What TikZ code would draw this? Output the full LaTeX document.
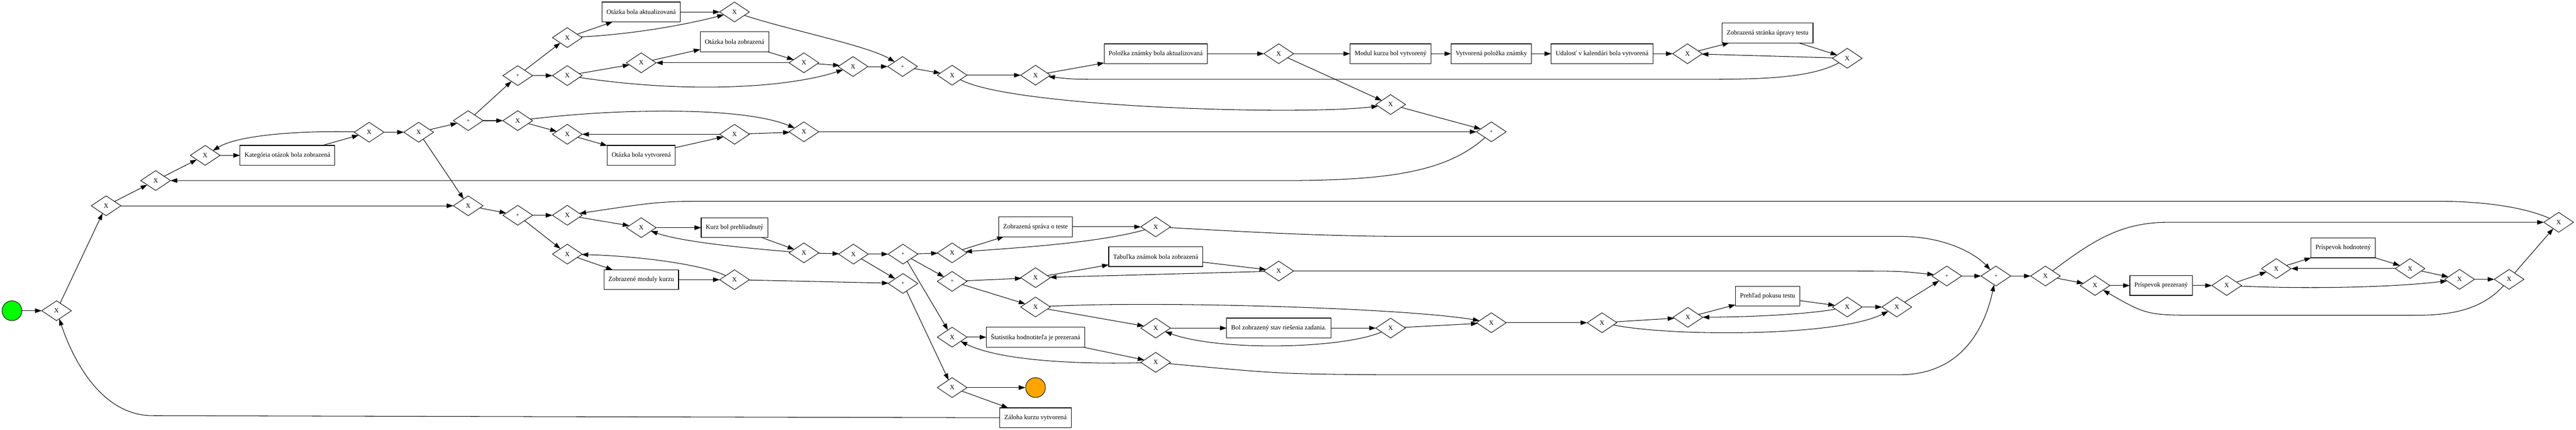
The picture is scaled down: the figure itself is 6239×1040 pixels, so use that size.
\documentclass[tikz,border=0pt]{standalone}
\usepackage{fontspec}
\setmainfont{Liberation Serif}
\usetikzlibrary{shapes.geometric,arrows.meta}
\definecolor{startgreen}{RGB}{0,255,0}
\definecolor{endorange}{RGB}{255,165,0}

\begin{document}
\begin{tikzpicture}[x=1pt, y=-1pt, font=\fontsize{15.8}{19}\selectfont,
	xgate/.style={draw, diamond, line width=1.2pt, minimum width=72pt, minimum height=48pt, inner sep=0pt, outer sep=0pt},
	pgate/.style={xgate, font=\fontsize{13.5}{15}\selectfont},
	eventbox/.style={draw, rectangle, line width=1.5pt, minimum height=48pt, inner xsep=11pt, outer sep=0pt},
	flow/.style={line width=1.3pt, arrows={-Triangle[length=16pt,width=11pt]}}]
	\useasboundingbox (0,0) rectangle (6239,1040);
	% events
	\node[circle, draw, fill=startgreen, minimum size=48pt, inner sep=0pt, line width=1.2pt] (startEv) at (29,752) {};
	\node[circle, draw, fill=endorange, minimum size=48pt, inner sep=0pt, line width=1.2pt] (endEv) at (2508,938) {};
	% gateways
	\node[xgate] (g1) at (137,752) {X};
	\node[xgate] (g2) at (257,498) {X};
	\node[xgate] (g3) at (377,437) {X};
	\node[xgate] (g4) at (497,376) {X};
	\node[xgate] (g5) at (894,320) {X};
	\node[xgate] (g6) at (1014,320) {X};
	\node[xgate] (g7) at (1134,498) {X};
	\node[xgate] (g8) at (1254,292) {X};
	\node[xgate] (g9) at (1374,91) {X};
	\node[xgate] (g10) at (1374,183) {X};
	\node[xgate] (g11) at (1779,29) {X};
	\node[xgate] (g12) at (1553,152) {X};
	\node[xgate] (g13) at (1947,152) {X};
	\node[xgate] (g14) at (1374,325) {X};
	\node[xgate] (g15) at (1779,325) {X};
	\node[xgate] (g16) at (1947,319) {X};
	\node[xgate] (g17) at (2066,161) {X};
	\node[xgate] (g18) at (2306,182) {X};
	\node[xgate] (g19) at (2508,182) {X};
	\node[xgate] (g20) at (3097,130) {X};
	\node[xgate] (g21) at (4087,130) {X};
	\node[xgate] (g22) at (4474,141) {X};
	\node[xgate] (g23) at (3368,253) {X};
	\node[xgate] (g24) at (1374,521) {X};
	\node[xgate] (g25) at (1553,551) {X};
	\node[xgate] (g26) at (1947,612) {X};
	\node[xgate] (g27) at (2067,615) {X};
	\node[xgate] (g28) at (1374,615) {X};
	\node[xgate] (g29) at (1779,677) {X};
	\node[xgate] (g30) at (2306,612) {X};
	\node[xgate] (g31) at (2306,816) {X};
	\node[xgate] (g32) at (2306,938) {X};
	\node[xgate] (g33) at (2799,877) {X};
	\node[xgate] (g34) at (2508,672) {X};
	\node[xgate] (g35) at (3097,656) {X};
	\node[xgate] (g36) at (2508,743) {X};
	\node[xgate] (g37) at (2799,794) {X};
	\node[xgate] (g38) at (2799,549) {X};
	\node[xgate] (g39) at (3368,794) {X};
	\node[xgate] (g40) at (4954,668) {X};
	\node[xgate] (g41) at (5074,691) {X};
	\node[xgate] (g42) at (4474,743) {X};
	\node[xgate] (g43) at (4594,743) {X};
	\node[xgate] (g44) at (3612,781) {X};
	\node[xgate] (g45) at (3880,781) {X};
	\node[xgate] (g46) at (4088,768) {X};
	\node[xgate] (g47) at (5393,691) {X};
	\node[xgate] (g48) at (5513,650) {X};
	\node[xgate] (g49) at (5837,650) {X};
	\node[xgate] (g50) at (5957,676) {X};
	\node[xgate] (g51) at (6077,676) {X};
	\node[xgate] (g52) at (6197,538) {X};
	\node[pgate] (p0) at (1254,521) {+};
	\node[pgate] (p1) at (1134,292) {+};
	\node[pgate] (p2) at (1254,183) {+};
	\node[pgate] (p3) at (2186,161) {+};
	\node[pgate] (p4) at (3612,319) {+};
	\node[pgate] (p5) at (2187,615) {+};
	\node[pgate] (p6) at (2187,686) {+};
	\node[pgate] (p7) at (2306,681) {+};
	\node[pgate] (p8) at (4715,668) {+};
	\node[pgate] (p9) at (4834,668) {+};
	% activities
	\node[eventbox] (kategoria) at (696,376) {Kategória otázok bola zobrazená};
	\node[eventbox] (otazkaAkt) at (1553,29) {Otázka bola aktualizovaná};
	\node[eventbox] (otazkaZob) at (1779,101) {Otázka bola zobrazená};
	\node[eventbox] (otazkaVyt) at (1553,376) {Otázka bola vytvorená};
	\node[eventbox] (polozkaAkt) at (2799,130) {Položka známky bola aktualizovaná};
	\node[eventbox] (modul) at (3368,130) {Modul kurzu bol vytvorený};
	\node[eventbox] (polozkaVyt) at (3612,130) {Vytvorená položka známky};
	\node[eventbox] (udalost) at (3880,130) {Udalosť v kalendári bola vytvorená};
	\node[eventbox] (stranka) at (4281,80) {Zobrazená stránka úpravy testu};
	\node[eventbox] (kurz) at (1779,551) {Kurz bol prehliadnutý};
	\node[eventbox] (moduly) at (1553,677) {Zobrazené moduly kurzu};
	\node[eventbox] (sprava) at (2508,549) {Zobrazená správa o teste};
	\node[eventbox] (tabulka) at (2799,621) {Tabuľka známok bola zobrazená};
	\node[eventbox] (stav) at (3097,794) {Bol zobrazený stav riešenia zadania.};
	\node[eventbox] (statistika) at (2508,816) {Štatistika hodnotiteľa je prezeraná};
	\node[eventbox] (zaloha) at (2508,1011) {Záloha kurzu vytvorená};
	\node[eventbox] (prehlad) at (4281,717) {Prehľad pokusu testu};
	\node[eventbox] (prispPrez) at (5234,691) {Príspevok prezeraný};
	\node[eventbox] (prispHod) at (5675,600) {Príspevok hodnotený};
	% straight flows
	\draw[flow] (startEv) -- (g1);
	\draw[flow] (g1) -- (g2);
	\draw[flow] (g2) -- (g3);
	\draw[flow] (g3) -- (g4);
	\draw[flow] (g4) -- (kategoria);
	\draw[flow] (kategoria) -- (g5);
	\draw[flow] (g5) -- (g6);
	\draw[flow] (g6) -- (p1);
	\draw[flow] (g6) -- (g7);
	\draw[flow] (g2) -- (g7);
	\draw[flow] (p1) -- (p2);
	\draw[flow] (p1) -- (g8);
	\draw[flow] (p2) -- (g9);
	\draw[flow] (p2) -- (g10);
	\draw[flow] (g9) -- (otazkaAkt);
	\draw[flow] (otazkaAkt) -- (g11);
	\draw[flow] (g10) -- (g12);
	\draw[flow] (g12) -- (otazkaZob);
	\draw[flow] (otazkaZob) -- (g13);
	\draw[flow] (g13) -- (g12);
	\draw[flow] (g13) -- (g17);
	\draw[flow] (g17) -- (p3);
	\draw[flow] (p3) -- (g18);
	\draw[flow] (g18) -- (g19);
	\draw[flow] (g19) -- (polozkaAkt);
	\draw[flow] (polozkaAkt) -- (g20);
	\draw[flow] (g20) -- (modul);
	\draw[flow] (modul) -- (polozkaVyt);
	\draw[flow] (polozkaVyt) -- (udalost);
	\draw[flow] (udalost) -- (g21);
	\draw[flow] (g20) -- (g23);
	\draw[flow] (g21) -- (stranka);
	\draw[flow] (stranka) -- (g22);
	\draw[flow] (g22) -- (g21);
	\draw[flow] (g23) -- (p4);
	\draw[flow] (g16) -- (p4);
	\draw[flow] (g8) -- (g14);
	\draw[flow] (g14) -- (otazkaVyt);
	\draw[flow] (otazkaVyt) -- (g15);
	\draw[flow] (g15) -- (g14);
	\draw[flow] (g15) -- (g16);
	\draw[flow] (g7) -- (p0);
	\draw[flow] (p0) -- (g24);
	\draw[flow] (p0) -- (g28);
	\draw[flow] (g24) -- (g25);
	\draw[flow] (g25) -- (kurz);
	\draw[flow] (kurz) -- (g26);
	\draw[flow] (g26) -- (g27);
	\draw[flow] (g27) -- (p5);
	\draw[flow] (g27) -- (p6);
	\draw[flow] (g28) -- (moduly);
	\draw[flow] (moduly) -- (g29);
	\draw[flow] (g29) -- (p6);
	\draw[flow] (p5) -- (g30);
	\draw[flow] (p5) -- (p7);
	\draw[flow] (p5) -- (g31);
	\draw[flow] (p6) -- (g32);
	\draw[flow] (g30) -- (sprava);
	\draw[flow] (sprava) -- (g38);
	\draw[flow] (p7) -- (g34);
	\draw[flow] (p7) -- (g36);
	\draw[flow] (g34) -- (tabulka);
	\draw[flow] (tabulka) -- (g35);
	\draw[flow] (g35) -- (g34);
	\draw[flow] (g36) -- (g37);
	\draw[flow] (g37) -- (stav);
	\draw[flow] (stav) -- (g39);
	\draw[flow] (g39) -- (g44);
	\draw[flow] (g44) -- (g45);
	\draw[flow] (g45) -- (g46);
	\draw[flow] (g46) -- (prehlad);
	\draw[flow] (prehlad) -- (g42);
	\draw[flow] (g42) -- (g43);
	\draw[flow] (g43) -- (p8);
	\draw[flow] (p8) -- (p9);
	\draw[flow] (p9) -- (g40);
	\draw[flow] (g40) -- (g41);
	\draw[flow] (g41) -- (prispPrez);
	\draw[flow] (prispPrez) -- (g47);
	\draw[flow] (g47) -- (g48);
	\draw[flow] (g48) -- (prispHod);
	\draw[flow] (prispHod) -- (g49);
	\draw[flow] (g49) -- (g48);
	\draw[flow] (g49) -- (g50);
	\draw[flow] (g50) -- (g51);
	\draw[flow] (g51) -- (g52);
	\draw[flow] (g31) -- (statistika);
	\draw[flow] (statistika) -- (g33);
	\draw[flow] (g32) -- (endEv);
	\draw[flow] (g32) -- (zaloha);
	% curved flows
	\draw[flow] (g5) .. controls (740,316) and (580,325) .. (g4);
	\draw[flow] (g9) .. controls (1550,82) and (1680,55) .. (g11);
	\draw[flow] (g11) .. controls (1900,70) and (2100,110) .. (p3);
	\draw[flow] (g10) .. controls (1650,225) and (1900,215) .. (g17);
	\draw[flow] (g18) .. controls (2450,260) and (3150,280) .. (g23);
	\draw[flow] (g22) .. controls (4380,192) and (4250,192) .. (4100,192) -- (2700,192) .. controls (2600,192) .. (g19);
	\draw[flow] (p4) .. controls (3500,420) and (3350,437) .. (3100,437) -- (g3);
	\draw[flow] (g8) .. controls (1500,262) and (1800,258) .. (g16);
	\draw[flow] (g26) .. controls (1800,600) and (1650,585) .. (g25);
	\draw[flow] (g29) .. controls (1700,640) and (1550,620) .. (g28);
	\draw[flow] (g38) .. controls (2650,590) and (2450,600) .. (g30);
	\draw[flow] (g38) .. controls (3000,560) and (3200,572) .. (3400,572) -- (4600,572) .. controls (4720,572) and (4790,620) .. (p9);
	\draw[flow] (g35) -- (4480,656) .. controls (4600,656) .. (p8);
	\draw[flow] (g36) .. controls (2800,728) and (3400,745) .. (g44);
	\draw[flow] (g39) .. controls (3250,845) and (2950,850) .. (g37);
	\draw[flow] (g42) .. controls (4380,760) and (4250,767) .. (g46);
	\draw[flow] (g45) .. controls (4050,815) and (4450,815) .. (g43);
	\draw[flow] (g33) .. controls (3100,905) .. (3350,907) -- (4600,907) .. controls (4760,907) and (4810,780) .. (p9);
	\draw[flow] (g33) .. controls (2600,882) and (2420,872) .. (g31);
	\draw[flow] (g40) .. controls (5060,590) and (5130,538) .. (5250,538) -- (g52);
	\draw[flow] (g47) .. controls (5600,700) and (5800,695) .. (g50);
	\draw[flow] (g51) .. controls (6000,763) and (5900,763) .. (5840,763) -- (5340,763) .. controls (5200,763) .. (g41);
	\draw[flow] (g52) .. controls (6110,500) and (6010,487) .. (5900,487) -- (1750,487) .. controls (1600,487) .. (g24);
	\draw[flow] (zaloha.west) -- (370,1006) .. controls (250,1006) and (180,880) .. (g1);
\end{tikzpicture}
\end{document}
